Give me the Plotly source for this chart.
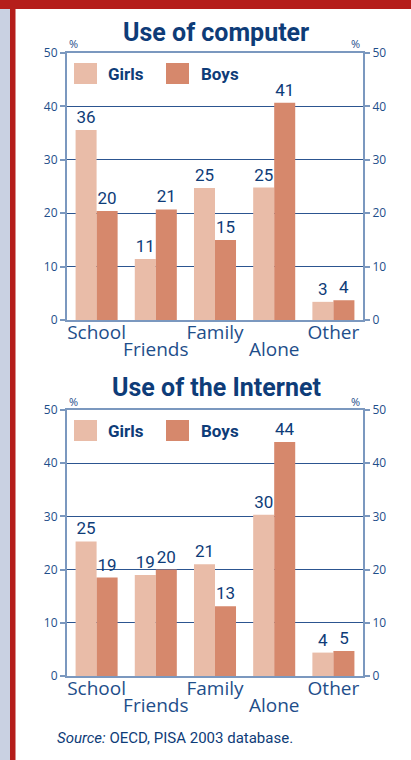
import plotly.graph_objects as go

categories = ["School", "Friends", "Family", "Alone", "Other"]
row1_labels = ["School", "", "Family", "", "Other"]
row2_labels = ["Friends", "Alone"]
row2_pos = [1, 3]

computer_girls = [35.6, 11.4, 24.7, 24.8, 3.4]
computer_boys = [20.4, 20.7, 15.0, 40.7, 3.7]
computer_girls_lbl = ["36", "11", "25", "25", "3"]
computer_boys_lbl = ["20", "21", "15", "41", "4"]

internet_girls = [25.3, 19.0, 21.0, 30.3, 4.4]
internet_boys = [18.5, 20.0, 13.1, 44.0, 4.7]
internet_girls_lbl = ["25", "19", "21", "30", "4"]
internet_boys_lbl = ["19", "20", "13", "44", "5"]

titles = ["Use of computer", "Use of the Internet"]
series_names = ["Girls", "Boys"]
y_ticks = [0, 10, 20, 30, 40, 50]

W, H = 411, 760
GIRL = "#E9BCA8"
BOY = "#D6886C"
NAVY = "#0E3C78"
TXT = "#1E4E8A"
AXC = "#7B98BF"
GRID = "#2C5590"
RED = "#B51E1B"
NARROW = "Roboto, sans-serif"
SANS = "Open Sans, Noto Sans, sans-serif"


def px(x):
    return x / W


def py(y):
    return 1 - y / H


fig = go.Figure()

panels = [
    (computer_girls, computer_boys, computer_girls_lbl, computer_boys_lbl, "x", "y"),
    (internet_girls, internet_boys, internet_girls_lbl, internet_boys_lbl, "x2", "y2"),
]
for g, b, gl, bl, xa, ya in panels:
    for vals, lbls, col, name in [(g, gl, GIRL, series_names[0]), (b, bl, BOY, series_names[1])]:
        fig.add_trace(go.Bar(
            x=categories, y=vals, text=lbls, name=name, marker=dict(color=col, line=dict(width=0)),
            textposition="outside", textfont=dict(family=NARROW, size=17, color=NAVY),
            cliponaxis=False, constraintext="none", xaxis=xa, yaxis=ya, hoverinfo="skip",
            showlegend=False,
        ))

xdom = [px(67), px(363)]
ydoms = [[py(320), py(53)], [py(676), py(410)]]

common_y = dict(range=[0, 50], tickvals=y_ticks, ticks="outside", ticklen=5, tickwidth=1.5,
                tickcolor=AXC, showline=True, linecolor=AXC, linewidth=2, automargin=False,
                tickfont=dict(family=SANS, size=12, color=TXT), zeroline=False, fixedrange=True)

layout = dict(
    width=W, height=H, margin=dict(l=0, r=0, t=0, b=0, autoexpand=False),
    paper_bgcolor="white", plot_bgcolor="white",
    barmode="group", bargap=0.29, bargroupgap=0, showlegend=False,
)

for k, an in [("xaxis", "y"), ("xaxis2", "y2")]:
    layout[k] = dict(domain=xdom, anchor=an, type="category", range=[-0.5, 4.5],
                     tickvals=categories, ticktext=row1_labels, ticks="", showline=True,
                     linecolor=AXC, linewidth=2, mirror=True, showgrid=False, fixedrange=True,
                     automargin=False,
                     tickfont=dict(family=SANS, size=19, color=TXT), ticklabelstandoff=-6)
layout["yaxis"] = dict(domain=ydoms[0], anchor="x", showgrid=True, gridcolor=GRID, gridwidth=1, **common_y)
layout["yaxis2"] = dict(domain=ydoms[1], anchor="x2", showgrid=True, gridcolor=GRID, gridwidth=1, **common_y)
layout["yaxis3"] = dict(overlaying="y", anchor="x", side="right", showgrid=False, **common_y)
layout["yaxis4"] = dict(overlaying="y2", anchor="x2", side="right", showgrid=False, **common_y)
for k, ov, an in [("xaxis3", "x", "y"), ("xaxis4", "x2", "y2")]:
    layout[k] = dict(overlaying=ov, anchor=an, side="bottom", type="linear", range=[-0.5, 4.5],
                     tickvals=row2_pos, ticktext=row2_labels, ticks="", showline=False,
                     showgrid=False, zeroline=False, ticklabelstandoff=16, fixedrange=True,
                     automargin=False,
                     tickfont=dict(family=SANS, size=19, color=TXT))

fig.update_layout(**layout)
for xa, ya in [("x3", "y"), ("x4", "y2"), ("x", "y3"), ("x2", "y4")]:
    fig.add_trace(go.Scatter(x=[None], y=[None], xaxis=xa, yaxis=ya, showlegend=False, hoverinfo="skip"))

shapes = [
    dict(type="rect", xref="paper", yref="paper", x0=0, x1=px(10), y0=0, y1=1,
         fillcolor="#C9D1E2", line=dict(width=0), layer="below"),
    dict(type="rect", xref="paper", yref="paper", x0=px(10), x1=px(15.5), y0=0, y1=1,
         fillcolor=RED, line=dict(width=0), layer="below"),
    dict(type="rect", xref="paper", yref="paper", x0=0, x1=1, y0=py(9), y1=1,
         fillcolor=RED, line=dict(width=0), layer="below"),
]
annotations = []
title_y = [33, 387]
legend_top = [63, 420]
for i in range(2):
    annotations.append(dict(text="<b>%s</b>" % titles[i], xref="paper", yref="paper", x=px(216), y=py(title_y[i]),
                            xanchor="center", yanchor="middle", showarrow=False,
                            font=dict(family=NARROW, size=25, color=NAVY)))
    pct_y = 44 if i == 0 else 401
    for xx in [73, 355]:
        annotations.append(dict(text="%", xref="paper", yref="paper", x=px(xx), y=py(pct_y),
                                xanchor="center", yanchor="middle", showarrow=False,
                                font=dict(family=SANS, size=11, color=TXT)))
    t = legend_top[i]
    for (x0, col, name, tx) in [(74, GIRL, series_names[0], 106), (166, BOY, series_names[1], 199)]:
        shapes.append(dict(type="rect", xref="paper", yref="paper", x0=px(x0), x1=px(x0 + 23),
                           y0=py(t + 21), y1=py(t), fillcolor=col, line=dict(width=0)))
        annotations.append(dict(text="<b>%s</b>" % name, xref="paper", yref="paper", x=px(tx), y=py(t + 11),
                                xanchor="left", yanchor="middle", showarrow=False,
                                font=dict(family=NARROW, size=17, color=NAVY)))

annotations.append(dict(text="<i>Source:</i> OECD, PISA 2003 database.", xref="paper", yref="paper",
                        x=px(55), y=py(738), xanchor="left", yanchor="middle", showarrow=False,
                        font=dict(family=NARROW, size=15, color=NAVY)))

fig.update_layout(shapes=shapes, annotations=annotations)

post = (
    "document.documentElement.style.margin='0';"
    "document.documentElement.style.padding='0';"
    "document.documentElement.style.overflow='hidden';"
    "document.body.style.margin='0';"
    "document.body.style.padding='0';"
    "document.body.style.overflow='hidden';"
    "var gd=document.getElementById('{plot_id}');"
    "gd.style.display='block';"
    "if(gd.parentElement){gd.parentElement.style.display='block';gd.parentElement.style.margin='0';"
    "gd.parentElement.style.lineHeight='0';}"
)
fig.write_html("out.html", config={"displayModeBar": False}, post_script=post)
